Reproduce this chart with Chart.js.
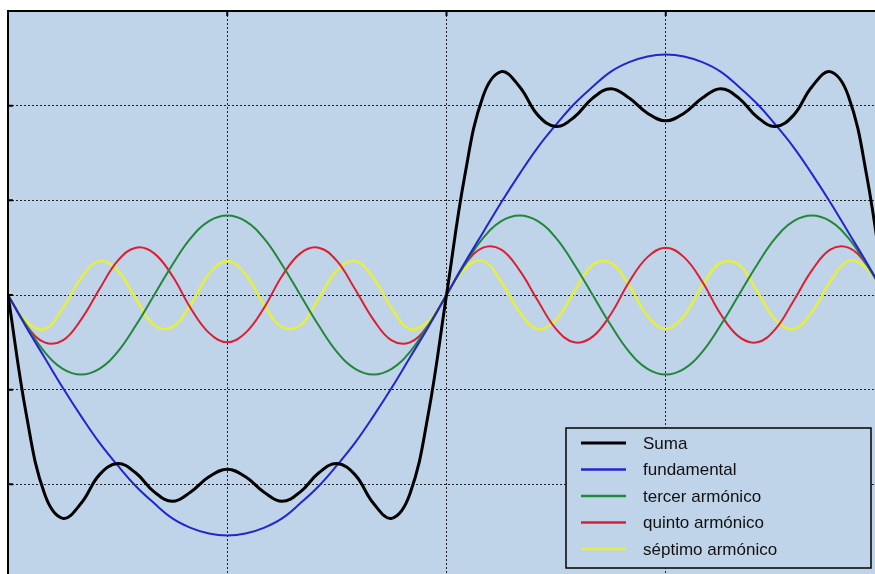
<!DOCTYPE html>
<html>
<head>
<meta charset="utf-8">
<title>Suma de armónicos</title>
<script src="https://cdn.jsdelivr.net/npm/chart.js"></script>
<style>
  html, body { margin: 0; padding: 0; background: #fff; overflow: hidden; }
  #wrap { position: absolute; left: 0; top: 0; width: 895px; height: 590px; }
  canvas { display: block; }
</style>
</head>
<body>
<div id="wrap"><canvas id="chart" width="895" height="590"></canvas></div>
<script>
// angle in degrees, one sample every 7.5°
const xs = [-180, -172.5, -165, -157.5, -150, -142.5, -135, -127.5, -120, -112.5, -105, -97.5,
  -90, -82.5, -75, -67.5, -60, -52.5, -45, -37.5, -30, -22.5, -15, -7.5,
  0, 7.5, 15, 22.5, 30, 37.5, 45, 52.5, 60, 67.5, 75, 82.5,
  90, 97.5, 105, 112.5, 120, 127.5, 135, 142.5, 150, 157.5, 165, 172.5, 180];

const labels = ["Suma", "fundamental", "tercer armónico", "quinto armónico", "séptimo armónico"];

const suma = [0, -0.63, -1.05, -1.18, -1.10, -0.95, -0.89, -0.94, -1.04, -1.09, -1.04, -0.96,
  -0.92, -0.96, -1.04, -1.09, -1.04, -0.94, -0.89, -0.95, -1.10, -1.18, -1.05, -0.63,
  0, 0.63, 1.05, 1.18, 1.10, 0.95, 0.89, 0.94, 1.04, 1.09, 1.04, 0.96,
  0.92, 0.96, 1.04, 1.09, 1.04, 0.94, 0.89, 0.95, 1.10, 1.18, 1.05, 0.63, 0];

const fundamental = [0, -0.17, -0.33, -0.49, -0.64, -0.78, -0.90, -1.01, -1.10, -1.18, -1.23, -1.26,
  -1.27, -1.26, -1.23, -1.18, -1.10, -1.01, -0.90, -0.78, -0.64, -0.49, -0.33, -0.17,
  0, 0.17, 0.33, 0.49, 0.64, 0.78, 0.90, 1.01, 1.10, 1.18, 1.23, 1.26,
  1.27, 1.26, 1.23, 1.18, 1.10, 1.01, 0.90, 0.78, 0.64, 0.49, 0.33, 0.17, 0];

const tercer = [0, -0.16, -0.30, -0.39, -0.42, -0.39, -0.30, -0.16, 0, 0.16, 0.30, 0.39,
  0.42, 0.39, 0.30, 0.16, 0, -0.16, -0.30, -0.39, -0.42, -0.39, -0.30, -0.16,
  0, 0.16, 0.30, 0.39, 0.42, 0.39, 0.30, 0.16, 0, -0.16, -0.30, -0.39,
  -0.42, -0.39, -0.30, -0.16, 0, 0.16, 0.30, 0.39, 0.42, 0.39, 0.30, 0.16, 0];

const quinto = [0, -0.16, -0.25, -0.24, -0.13, 0.03, 0.18, 0.25, 0.22, 0.10, -0.07, -0.20,
  -0.25, -0.20, -0.07, 0.10, 0.22, 0.25, 0.18, 0.03, -0.13, -0.24, -0.25, -0.16,
  0, 0.16, 0.25, 0.24, 0.13, -0.03, -0.18, -0.25, -0.22, -0.10, 0.07, 0.20,
  0.25, 0.20, 0.07, -0.10, -0.22, -0.25, -0.18, -0.03, 0.13, 0.24, 0.25, 0.16, 0];

const septimo = [0, -0.14, -0.18, -0.07, 0.09, 0.18, 0.13, -0.02, -0.16, -0.17, -0.05, 0.11,
  0.18, 0.11, -0.05, -0.17, -0.16, -0.02, 0.13, 0.18, 0.09, -0.07, -0.18, -0.14,
  0, 0.14, 0.18, 0.07, -0.09, -0.18, -0.13, 0.02, 0.16, 0.17, 0.05, -0.11,
  -0.18, -0.11, 0.05, 0.17, 0.16, 0.02, -0.13, -0.18, -0.09, 0.07, 0.18, 0.14, 0];

const xTicks = [-180, -90, 0, 90, 180];
const yTicks = [-1.5, -1, -0.5, 0, 0.5, 1, 1.5];

const series = [suma, fundamental, tercer, quinto, septimo];
const colors = ["#000000", "#2424d0", "#22873a", "#dc1e32", "#e6f03c"];
const widths = [3, 2, 2, 2, 2.5];

const bg = "#bfd4e8";

const plotBackground = {
    id: "plotBackground",
    beforeDraw(chart) {
        const {ctx, chartArea: a} = chart;
        ctx.save();
        ctx.fillStyle = bg;
        ctx.fillRect(a.left, a.top, a.right - a.left, a.bottom - a.top);
        ctx.restore();
    }
};

// frame, inner tick marks and the legend box
const frameAndLegend = {
    id: "frameAndLegend",
    afterDraw(chart) {
        const {ctx, chartArea: a, scales} = chart;
        ctx.save();
        ctx.strokeStyle = "#000";
        ctx.lineWidth = 2;
        ctx.strokeRect(a.left, a.top, a.right - a.left, a.bottom - a.top);

        xTicks.forEach(v => {
            const px = scales.x.getPixelForValue(v);
            ctx.beginPath();
            ctx.moveTo(px, a.top); ctx.lineTo(px, a.top + 5);
            ctx.moveTo(px, a.bottom); ctx.lineTo(px, a.bottom - 5);
            ctx.stroke();
        });
        yTicks.forEach(v => {
            const py = scales.y.getPixelForValue(v);
            ctx.beginPath();
            ctx.moveTo(a.left, py); ctx.lineTo(a.left + 5, py);
            ctx.moveTo(a.right, py); ctx.lineTo(a.right - 5, py);
            ctx.stroke();
        });

        // legend
        const left = a.right - 319, top = a.bottom - 151, w = 305, h = 140;
        ctx.fillStyle = bg;
        ctx.fillRect(left, top, w, h);
        ctx.lineWidth = 1.5;
        ctx.strokeStyle = "#000";
        ctx.strokeRect(left, top, w, h);

        ctx.font = "17px 'Liberation Sans', Arial, sans-serif";
        ctx.textBaseline = "middle";
        chart.data.datasets.forEach((ds, i) => {
            const y = top + 15 + i * 26.5;
            ctx.beginPath();
            ctx.strokeStyle = ds.borderColor;
            ctx.lineWidth = i === 0 ? 3 : 2.5;
            ctx.moveTo(left + 15, y);
            ctx.lineTo(left + 60, y);
            ctx.stroke();
            ctx.fillStyle = "#111";
            ctx.fillText(ds.label, left + 77, y + 1);
        });
        ctx.restore();
    }
};

new Chart(document.getElementById("chart"), {
    type: "line",
    data: {
        datasets: series.map((s, i) => ({
            label: labels[i],
            data: xs.map((x, j) => ({x: x, y: s[j]})),
            borderColor: colors[i],
            borderWidth: widths[i],
            pointRadius: 0,
            tension: 0.4,
            fill: false,
        })),
    },
    options: {
        responsive: false,
        animation: false,
        layout: {
            padding: {left: 8, top: 11, right: 10, bottom: 11}
        },
        plugins: {
            legend: { display: false },
            tooltip: { enabled: false },
        },
        scales: {
            x: {
                type: "linear",
                min: -180,
                max: 180,
                afterBuildTicks: axis => { axis.ticks = xTicks.map(v => ({value: v})); },
                ticks: { display: false },
                grid: { color: "#222", lineWidth: 1, drawTicks: false },
                border: { display: false, dash: [2, 2] },
            },
            y: {
                min: -1.5,
                max: 1.5,
                afterBuildTicks: axis => { axis.ticks = yTicks.map(v => ({value: v})); },
                ticks: { display: false },
                grid: { color: "#222", lineWidth: 1, drawTicks: false },
                border: { display: false, dash: [2, 2] },
            }
        }
    },
    plugins: [plotBackground, frameAndLegend]
});
</script>
</body>
</html>
